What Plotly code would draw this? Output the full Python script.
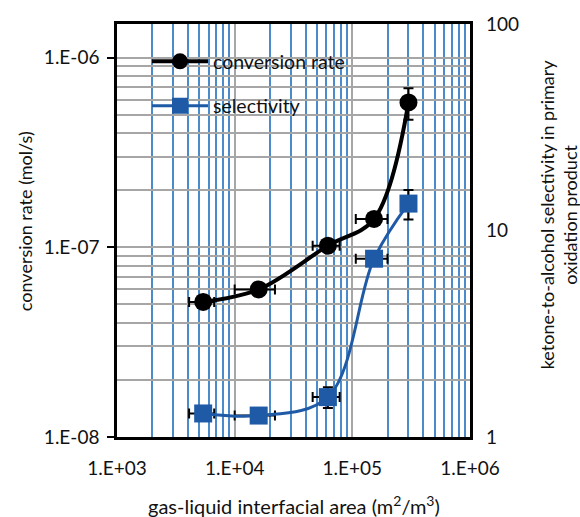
import plotly.graph_objects as go

# data
area = [5.4e3, 1.6e4, 6.2e4, 1.53e5, 3.0e5]
area_err = [1.3e3, 6.0e3, 1.6e4, 4.6e4, 0.0]
conv_rate = [5.15e-8, 6.0e-8, 1.02e-7, 1.41e-7, 5.8e-7]
conv_err = [0.0, 0.0, 0.0, 0.0, 1.1e-7]
selectivity = [1.30, 1.27, 1.56, 7.3, 13.5]
sel_err = [0.0, 0.0, 0.18, 0.0, 2.2]

x_ticks = [1e3, 1e4, 1e5, 1e6]
x_tick_text = ["1.E+03", "1.E+04", "1.E+05", "1.E+06"]
y_ticks = [1e-8, 1e-7, 1e-6]
y_tick_text = ["1.E-08", "1.E-07", "1.E-06"]
y2_ticks = [1, 10, 100]
y2_tick_text = ["1", "10", "100"]

FONT = "Lato"
TXT = "#111111"
GRID_BLUE = "#4B8BCB"
GRID_GRAY = "#A6A6A6"

minor_x = [k * 10 ** d for d in range(3, 6) for k in range(2, 10)]
minor_y = [k * 10.0 ** d for d in range(-8, -6) for k in range(2, 10)]

fig = go.Figure()
fig.add_trace(go.Scatter(
    x=area, y=conv_rate, name="conversion rate", mode="lines+markers",
    line=dict(color="black", width=4, shape="spline", smoothing=1),
    marker=dict(symbol="circle", size=18, color="black"),
    error_x=dict(type="data", array=area_err, color="black", thickness=2, width=5),
    error_y=dict(type="data", array=conv_err, color="black", thickness=2, width=5),
    yaxis="y", legendgroup="a",
))
fig.add_trace(go.Scatter(
    x=area, y=selectivity, name="selectivity", mode="lines+markers",
    line=dict(color="#1F5AA6", width=3, shape="spline", smoothing=1),
    marker=dict(symbol="square", size=18, color="#1F5AA6"),
    error_x=dict(type="data", array=area_err, color="black", thickness=2, width=5),
    error_y=dict(type="data", array=sel_err, color="black", thickness=2, width=5),
    yaxis="y2", legendgroup="b",
))

fig.update_layout(
    width=580, height=517,
    margin=dict(l=117, r=110, t=18, b=80),
    paper_bgcolor="white", plot_bgcolor="white",
    font=dict(family=FONT, size=19, color=TXT),
    xaxis=dict(
        type="log", range=[3, 6],
        tickmode="array", tickvals=x_ticks, ticktext=x_tick_text,
        ticks="", ticklabelstandoff=12,
        showgrid=True, gridcolor=GRID_GRAY, gridwidth=2,
        minor=dict(tickmode="array", tickvals=minor_x, showgrid=True,
                   gridcolor=GRID_BLUE, gridwidth=2, ticks=""),
        showline=True, linecolor="black", linewidth=2.5, mirror=True,
        zeroline=False,
    ),
    yaxis=dict(
        type="log", range=[-8, -5.823],
        tickmode="array", tickvals=y_ticks, ticktext=y_tick_text,
        ticks="outside", ticklen=7, tickwidth=2, tickcolor="black",
        ticklabelstandoff=4,
        showgrid=True, gridcolor=GRID_GRAY, gridwidth=2,
        minor=dict(tickmode="array", tickvals=minor_y, showgrid=True,
                   gridcolor=GRID_GRAY, gridwidth=2, ticks=""),
        showline=True, linecolor="black", linewidth=2.5, mirror=True,
        zeroline=False,
    ),
    yaxis2=dict(
        type="log", range=[0, 2], overlaying="y", side="right",
        tickmode="array", tickvals=y2_ticks, ticktext=y2_tick_text,
        ticks="", ticklabelstandoff=15, showgrid=False, zeroline=False,
        showline=False,
    ),
    legend=dict(x=0.085, y=0.956, xanchor="left", yanchor="top",
                bgcolor="rgba(0,0,0,0)", font=dict(size=19.5), itemwidth=56,
                traceorder="grouped", tracegroupgap=16),
    annotations=[
        dict(text="conversion rate (mol/s)", xref="paper", yref="paper",
             x=-0.2606, y=0.5227, textangle=-90, showarrow=False,
             xanchor="center", yanchor="middle", font=dict(size=18)),
        dict(text="ketone-to-alcohol selectivity in primary<br>oxidation product",
             xref="paper", yref="paper", x=1.249, y=0.539, textangle=-90,
             showarrow=False, xanchor="center", yanchor="middle",
             font=dict(size=18)),
        dict(text="gas-liquid interfacial area (m<sup>2</sup>/m<sup>3</sup>)",
             xref="paper", yref="paper", x=0.5, y=-0.1647, showarrow=False,
             xanchor="center", yanchor="middle", font=dict(size=20)),
    ],
)

fig.write_html("out.html", config={"displayModeBar": False},
               post_script="document.body.style.margin='0px';document.body.style.padding='0px';")
